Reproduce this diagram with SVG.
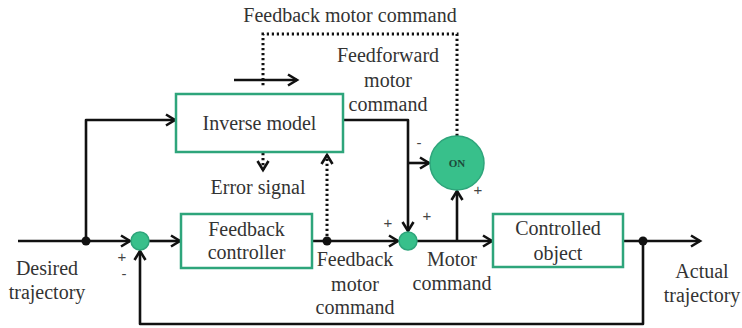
<svg xmlns="http://www.w3.org/2000/svg" width="742" height="328" viewBox="0 0 742 328">
<style>
.t{font-family:"Liberation Serif","Times New Roman",serif;font-size:20px;fill:#333;text-anchor:middle}
.s{font-family:"Liberation Sans",Arial,sans-serif;font-size:15px;fill:#444;text-anchor:middle}
.box{fill:#fff;stroke:#2ea57b;stroke-width:2.5}
.sum{fill:#38c08b;stroke:#2ea57b;stroke-width:1.5}
.ln{fill:none;stroke:#111;stroke-width:2.6;stroke-linejoin:round}
.dot{fill:none;stroke:#111;stroke-width:3;stroke-dasharray:2.2 2.8}
.arr{marker-end:url(#ah)}
</style>
<defs>
<marker id="ah" markerUnits="userSpaceOnUse" markerWidth="14" markerHeight="14" refX="11" refY="7" orient="auto">
<path d="M2,1.5 L11,7 L2,12.5" fill="none" stroke="#111" stroke-width="2.6" stroke-linejoin="miter"/>
</marker>
</defs>
<g id="connectors">
<path class="ln arr" d="M18,241 H130"/>
<path class="ln arr" d="M86,241 V120 H175"/>
<path class="ln arr" d="M149,241 H180"/>
<path class="ln arr" d="M312,241 H398"/>
<path class="dot arr" d="M327,241 V155"/>
<path class="ln arr" d="M343,120 H408 V231"/>
<path class="ln arr" d="M408,163 H429"/>
<path class="ln arr" d="M417,241 H492"/>
<path class="ln arr" d="M457,241 V191"/>
<path class="ln arr" d="M623,241 H700"/>
<path class="ln arr" d="M643,241 V324 H140 V251"/>
<path class="ln arr" d="M234,80 H297"/>
<path class="dot" d="M457,136 V34 H263 V88"/>
<path class="dot arr" d="M263,153 V170"/>
<circle cx="86" cy="241" r="4.5" fill="#111"/>
<circle cx="327" cy="241" r="4.5" fill="#111"/>
<circle cx="643" cy="241" r="4.5" fill="#111"/>
</g>
<g id="inverse-model">
<rect class="box" x="176" y="94" width="167" height="58"/>
<text class="t" x="259.5" y="130">Inverse model</text>
</g>
<g id="feedback-controller">
<rect class="box" x="181" y="214" width="131" height="54"/>
<text class="t" x="246.5" y="236">Feedback</text>
<text class="t" x="246.5" y="259">controller</text>
</g>
<g id="controlled-object">
<rect class="box" x="493" y="214" width="130" height="53"/>
<text class="t" x="558" y="235">Controlled</text>
<text class="t" x="558" y="260">object</text>
</g>
<g id="sum1"><circle class="sum" cx="140" cy="241" r="9"/></g>
<g id="sum2"><circle class="sum" cx="408" cy="241" r="9"/></g>
<g id="on-switch">
<circle class="sum" cx="457" cy="163" r="27"/>
<text x="457" y="167" style="font-family:'Liberation Serif',serif;font-size:11px;font-weight:bold;fill:#1d4a3a;text-anchor:middle">ON</text>
</g>
<g id="labels">
<text class="t" x="350" y="22">Feedback motor command</text>
<text class="t" x="388" y="62">Feedforward</text>
<text class="t" x="388" y="87">motor</text>
<text class="t" x="388" y="111">command</text>
<text class="t" x="258" y="194">Error signal</text>
<text class="t" x="47" y="275">Desired</text>
<text class="t" x="47" y="299">trajectory</text>
<text class="t" x="355" y="266">Feedback</text>
<text class="t" x="355" y="291">motor</text>
<text class="t" x="355" y="314">command</text>
<text class="t" x="452" y="266">Motor</text>
<text class="t" x="452" y="290">command</text>
<text class="t" x="702" y="278">Actual</text>
<text class="t" x="702" y="302">trajectory</text>
<text class="s" x="122" y="262">+</text>
<text class="s" x="124" y="279">-</text>
<text class="s" x="388" y="228">+</text>
<text class="s" x="427" y="221">+</text>
<text class="s" x="419" y="148">-</text>
<text class="s" x="478" y="195">+</text>
</g>
</svg>
